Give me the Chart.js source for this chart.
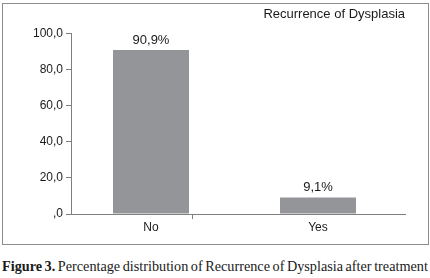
<!DOCTYPE html>
<html>
<head>
<meta charset="utf-8">
<script src="https://cdn.jsdelivr.net/npm/chart.js@4/dist/chart.umd.min.js"></script>
<style>
  html, body { margin: 0; padding: 0; background: #fff; }
  body { width: 430px; height: 278px; position: relative; overflow: hidden; }
  #box { position: absolute; left: 2px; top: 3px; width: 425px; height: 240px; border: 1px solid #8c8c8c; }
  #box canvas { display: block; }
  #caption { position: absolute; left: 2px; top: 258px; white-space: nowrap;
    font-family: "Liberation Serif", "DejaVu Serif", serif; font-size: 14px; color: #1a1a1a; word-spacing: -1px; }
  #caption b { font-weight: bold; }
</style>
</head>
<body>
<div id="box"><canvas id="c" width="425" height="240"></canvas></div>
<div id="caption"><b>Figure 3.</b> Percentage distribution of Recurrence of Dysplasia after treatment</div>
<script>
const categories = ["No", "Yes"];
const percentages = [90.9, 9.1];
const valueLabels = ["90,9%", "9,1%"];
const yTicks = [0, 20, 40, 60, 80, 100];
const chartTitle = "Recurrence of Dysplasia";

const AXIS = "#7f7f7f";
const TEXT = "#1a1a1a";

// fit caption to the figure width
(function () {
  const cap = document.getElementById("caption");
  const target = 426;
  let size = 14;
  cap.style.fontSize = size + "px";
  const w = cap.getBoundingClientRect().width;
  size = size * target / w;
  cap.style.fontSize = size.toFixed(2) + "px";
})();

const valueLabelPlugin = {
  id: "valueLabels",
  afterDatasetsDraw(chart) {
    const ctx = chart.ctx;
    const meta = chart.getDatasetMeta(0);
    ctx.save();
    ctx.font = '13px "Liberation Sans", Arial, sans-serif';
    ctx.fillStyle = TEXT;
    ctx.textAlign = "center";
    ctx.textBaseline = "middle";
    meta.data.forEach((bar, i) => {
      ctx.fillText(valueLabels[i], bar.x, bar.y - 10);
    });
    ctx.restore();
  }
};

new Chart(document.getElementById("c"), {
  type: "bar",
  data: {
    datasets: [{
      data: categories.map((c, i) => ({ x: i, y: percentages[i] })),
      backgroundColor: "#939598",
      borderWidth: 0,
      categoryPercentage: 1.0,
      barPercentage: 0.91
    }]
  },
  options: {
    responsive: false,
    animation: false,
    layout: { padding: { left: 0, right: 23, top: 0, bottom: 0 } },
    plugins: {
      legend: { display: false },
      tooltip: { enabled: false },
      title: {
        display: true,
        text: chartTitle,
        align: "end",
        color: TEXT,
        font: { family: '"Liberation Sans", Arial, sans-serif', size: 13, weight: "normal" },
        padding: { top: 3, bottom: 11 }
      }
    },
    scales: {
      x: {
        type: "linear",
        min: -0.479,
        max: 1.521,
        offset: false,
        afterFit(s) { s.height = 30; },
        afterBuildTicks(s) { s.ticks = [{ value: 0 }, { value: 0.5 }, { value: 1 }]; },
        grid: {
          drawOnChartArea: false,
          drawTicks: true,
          tickLength: 5,
          color: (c) => (c.tick && c.tick.value === 0.5 ? AXIS : "transparent")
        },
        border: { display: true, color: AXIS, width: 1 },
        ticks: {
          color: TEXT,
          padding: 1,
          autoSkip: false,
          maxRotation: 0,
          font: { family: '"Liberation Sans", Arial, sans-serif', size: 12 },
          callback: (v) => (Number.isInteger(v) ? categories[v] : "")
        }
      },
      y: {
        min: 0,
        max: 100,
        afterFit(s) { s.width = 68; },
        afterBuildTicks(s) { s.ticks = yTicks.map(v => ({ value: v })); },
        grid: {
          drawOnChartArea: false,
          drawTicks: true,
          tickLength: 5,
          color: AXIS
        },
        border: { display: true, color: AXIS, width: 1 },
        ticks: {
          color: TEXT,
          padding: 3,
          font: { family: '"Liberation Sans", Arial, sans-serif', size: 12 },
          callback: (v) => (v === 0 ? ",0" : v.toFixed(1).replace(".", ","))
        }
      }
    }
  },
  plugins: [valueLabelPlugin]
});
</script>
</body>
</html>
